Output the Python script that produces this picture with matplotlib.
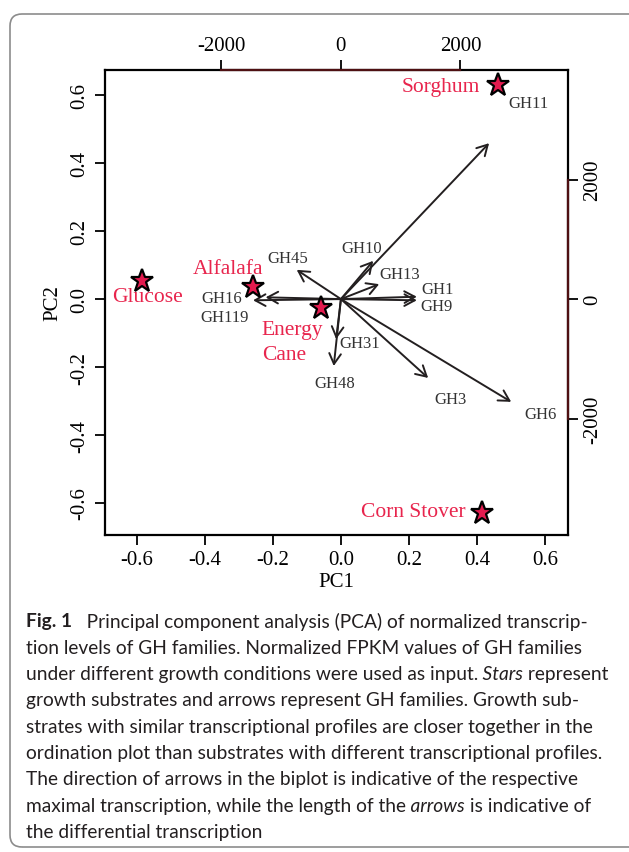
import numpy as np
import matplotlib.pyplot as plt
from matplotlib.patches import FancyBboxPatch

plt.rcParams['axes.unicode_minus'] = False

# ---- data ----
# substrate scores (stars), PC1 / PC2
substrates = ["Sorghum", "Glucose", "Alfalafa", "Energy\nCane", "Corn Stover"]
pc1_scores = [0.462, -0.585, -0.259, -0.059, 0.415]
pc2_scores = [0.629, 0.053, 0.035, -0.026, -0.629]

# GH family loadings (arrow tips), on the top/right axis scale
gh_families = ["GH11", "GH6", "GH3", "GH1", "GH9", "GH13", "GH10",
               "GH45", "GH16", "GH119", "GH31", "GH48"]
pc1_loadings = [2480, 2850, 1460, 1270, 1270, 640, 540, -740, -1260, -1470, -80, -120]
pc2_loadings = [2610, -1720, -1320, 40, -20, 250, 640, 490, 30, -20, -670, -1120]

score_ticks = [-0.6, -0.4, -0.2, 0.0, 0.2, 0.4, 0.6]
load_ticks = [-2000, 0, 2000]
xlim = (-0.694, 0.668)
ylim = (-0.694, 0.674)

caption_lines = [
    [("Fig. 1", "bold"), ("   Principal component analysis (PCA) of normalized transcrip-", "normal")],
    [("tion levels of GH families. Normalized FPKM values of GH families", "normal")],
    [("under different growth conditions were used as input.", "normal"), (" Stars", "italic"), (" represent", "normal")],
    [("growth substrates and arrows represent GH families. Growth sub-", "normal")],
    [("strates with similar transcriptional profiles are closer together in the", "normal")],
    [("ordination plot than substrates with different transcriptional profiles.", "normal")],
    [("The direction of arrows in the biplot is indicative of the respective", "normal")],
    [("maximal transcription, while the length of the", "normal"), (" arrows", "italic"), (" is indicative of", "normal")],
    [("the differential transcription", "normal")],
]

# ---- layout / style ----
# label offsets in pixels from star / arrow tip
sub_offsets = {"Sorghum": (-57, -1), "Glucose": (5, -15), "Alfalafa": (-25, 19),
               "Energy\nCane": (-59, -34), "Corn Stover": (-69, 1)}
gh_offsets = {"GH11": (39, 40), "GH6": (29, -12), "GH3": (22, -21), "GH1": (21, 8),
              "GH9": (20, -6), "GH13": (21, 10), "GH10": (-11, 13), "GH45": (-9, 12),
              "GH16": (-44, -1), "GH119": (-29, -17), "GH31": (24, -4), "GH48": (1, -17)}

RED = "#e8254d"
INK = "#231f20"
SERIF = "Liberation Serif"
W, H = 629, 853
ratio = 5690.0  # loading units per score unit

fig = plt.figure(figsize=(W / 100, H / 100), dpi=100)

frame = FancyBboxPatch((10, 5), 640, H - 15 - 5, boxstyle="round,pad=0,rounding_size=12",
                       transform=None, fill=False, ec="#8c8c8c", lw=1.2)
fig.add_artist(frame)

ax = fig.add_axes([105 / W, 1 - 536 / H, 463 / W, 465 / H])
ax.set_xlim(*xlim)
ax.set_ylim(*ylim)

for gh, lx, ly in zip(gh_families, pc1_loadings, pc2_loadings):
    tip = (lx / ratio, ly / ratio)
    ax.annotate("", xy=tip, xytext=(0, 0),
                arrowprops=dict(arrowstyle="->,head_length=0.5,head_width=0.28",
                                mutation_scale=15, lw=1.4, color=INK,
                                shrinkA=0, shrinkB=0))
    ax.annotate(gh, xy=tip, xytext=gh_offsets[gh], textcoords="offset pixels",
                ha="center", va="center", fontsize=12, family=SERIF, color="#333333")

ax.plot(pc1_scores, pc2_scores, ls="none", marker="*", ms=17,
        mfc="#e31b4f", mec="black", mew=1.6, zorder=5)
for name, x, y in zip(substrates, pc1_scores, pc2_scores):
    ha = "left" if "\n" in name else "center"
    ax.annotate(name, xy=(x, y), xytext=sub_offsets[name], textcoords="offset pixels",
                ha=ha, va="center", fontsize=15.5, family=SERIF, color=RED,
                linespacing=1.45)

# primary axes
ax.set_xticks(score_ticks)
ax.set_xticklabels(["%.1f" % v for v in score_ticks])
ax.set_yticks(score_ticks)
ax.set_yticklabels(["%.1f" % v for v in score_ticks], rotation=90, va="center")
ax.tick_params(length=7, width=1.3, pad=4, labelsize=15, colors="black")
for lab in ax.get_xticklabels() + ax.get_yticklabels():
    lab.set_family(SERIF)
for s in ax.spines.values():
    s.set_linewidth(1.6)
ax.set_xlabel("PC1", family=SERIF, fontsize=15, labelpad=2)
ax.set_ylabel("PC2", family=SERIF, fontsize=15, labelpad=6)

# secondary axes for loadings
top = ax.secondary_xaxis("top", functions=(lambda v: v * ratio, lambda v: v / ratio))
right = ax.secondary_yaxis("right", functions=(lambda v: v * ratio, lambda v: v / ratio))
top.set_xticks(load_ticks)
top.set_xticklabels([str(v) for v in load_ticks])
right.set_yticks(load_ticks)
right.set_yticklabels([str(v) for v in load_ticks], rotation=90, va="center")
for sec in (top, right):
    sec.tick_params(length=7, width=1.3, pad=4, labelsize=15)
    for lab in sec.get_xticklabels() + sec.get_yticklabels():
        lab.set_family(SERIF)
    for s in sec.spines.values():
        s.set_visible(False)
ax.plot([load_ticks[0] / ratio, load_ticks[-1] / ratio], [ylim[1], ylim[1]],
        color="#4e1012", lw=1.6, clip_on=False, zorder=6)
ax.plot([xlim[1], xlim[1]], [load_ticks[0] / ratio, load_ticks[-1] / ratio],
        color="#4e1012", lw=1.6, clip_on=False, zorder=6)

# caption, drawn segment by segment so bold / italic words sit inline
renderer = fig.canvas.get_renderer()
y0, dy = 622, 26.3
for i, segs in enumerate(caption_lines):
    xpix = 26
    ypix = H - (y0 + i * dy)
    for text, style in segs:
        t = fig.text(xpix / W, ypix / H, text, fontsize=13.8, family="Lato",
                     color=INK, va="center", ha="left",
                     weight="bold" if style == "bold" else "normal",
                     style="italic" if style == "italic" else "normal")
        xpix = t.get_window_extent(renderer).x1

fig.savefig("out.png", dpi=100)
